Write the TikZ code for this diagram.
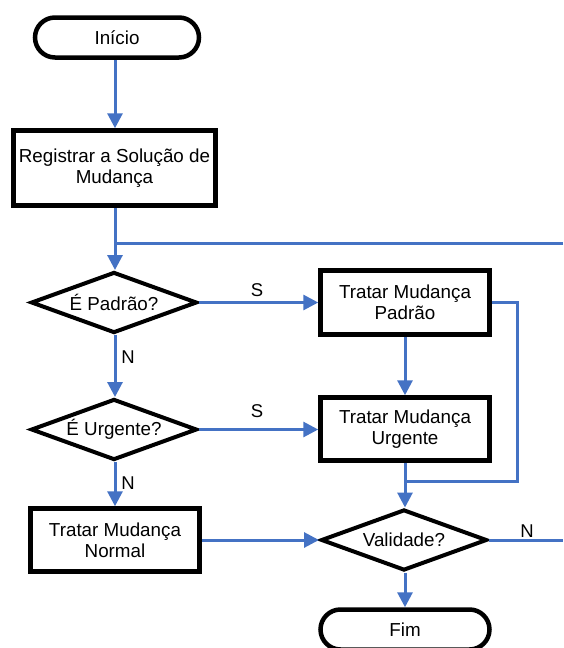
\documentclass[tikz,border=0pt]{standalone}
\usepackage{fontspec}
\setmainfont{Liberation Sans}
\usetikzlibrary{arrows.meta,shapes.geometric}
\definecolor{flowblue}{RGB}{68,114,196}
\begin{document}
\begin{tikzpicture}[x=1pt,y=-1pt,
  every node/.style={font=\fontsize{18.8}{21}\selectfont, align=center, inner sep=0pt},
  term/.style={draw=black, line width=4.5pt, rounded corners=20pt, minimum width=164pt, minimum height=40pt},
  proc/.style={draw=black, line width=4.5pt, minimum width=169pt, minimum height=63pt},
  dec/.style={draw=black, line width=4pt, diamond, shape aspect=2.7, minimum width=166pt, minimum height=61pt},
  flow/.style={draw=flowblue, line width=3pt},
  arr/.style={flow, -{Triangle[length=15pt,width=15pt]}},
  lbl/.style={font=\fontsize{18.5}{20}\selectfont}
]
\useasboundingbox (0,0) rectangle (563,648);
\node[term] (ini) at (117,37.5) {Início};
\node[proc, minimum width=202pt, minimum height=75pt] (reg) at (114.5,168) {Registrar a Solução de\\Mudança};
\node[dec] (dp) at (114,302.5) {É Padrão?};
\node[dec] (du) at (114,429.5) {É Urgente?};
\node[proc] (tn) at (115,540) {Tratar Mudança\\Normal};
\node[proc, minimum height=64pt] (tp) at (405,302.5) {Tratar Mudança\\Padrão};
\node[proc] (tu) at (405,429) {Tratar Mudança\\Urgente};
\node[dec] (val) at (404,540) {Validade?};
\node[term, minimum width=169pt] (fim) at (405,629.5) {Fim};

\coordinate (e1) at (563,243);
\coordinate (j1) at (115,243);
\coordinate (e2) at (563,540);
\coordinate (r1) at (517,302.5);
\coordinate (r2) at (517,481);
\coordinate (j2) at (405,481);

\draw[arr] (ini.south -| 115,0) -- (reg.north -| 115,0);
\draw[arr] (reg.south -| 115,0) -- (dp.north -| 115,0);
\draw[flow] (e1) -- (j1);
\draw[arr] (dp.east) -- (tp.west);
\draw[arr] (dp.south -| 115,0) -- (du.north -| 115,0);
\draw[arr] (du.east) -- (tu.west |- du.east);
\draw[arr] (du.south -| 115,0) -- (tn.north -| 115,0);
\draw[arr] (tn.east) -- (val.west);
\draw[arr] (tp.south) -- (tu.north);
\draw[flow] (tp.east) -- (r1) -- (r2) -- (j2);
\draw[arr] (tu.south) -- (val.north -| tu.south);
\draw[flow] (val.east) -- (e2);
\draw[arr] (val.south -| 405,0) -- (fim.north);

\node[lbl] (s1) at (257,290) {S};
\node[lbl] (s2) at (257,411) {S};
\node[lbl] (n1) at (128,357) {N};
\node[lbl] (n2) at (128,483) {N};
\node[lbl] (n3) at (527,531) {N};
\end{tikzpicture}
\end{document}
